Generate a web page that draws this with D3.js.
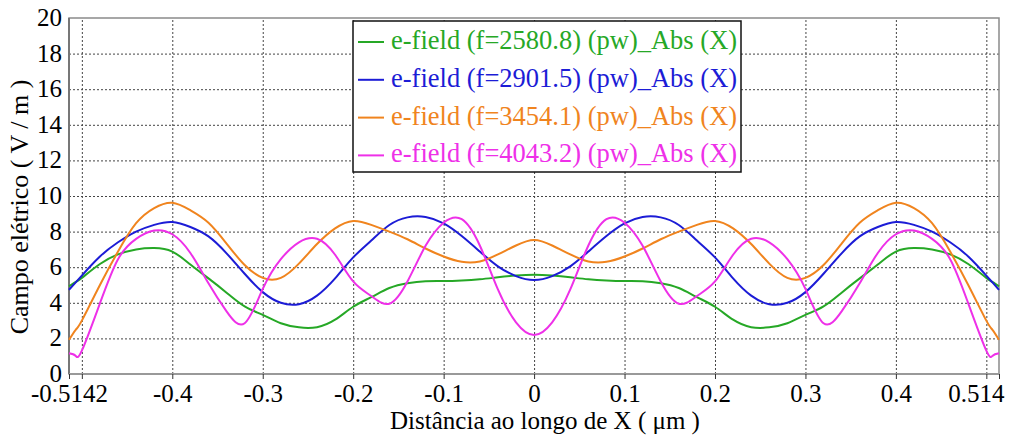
<!DOCTYPE html>
<html>
<head>
<meta charset="utf-8">
<script src="https://cdn.jsdelivr.net/npm/d3@7"></script>
<style>
  body { margin: 0; background: #fff; }
  svg { display: block; font-family: "Liberation Serif", "Times New Roman", serif; }
</style>
</head>
<body>
<svg id="chart" width="1015" height="437"></svg>
<script>
// positions along X (um)
let xs = [-0.5142, -0.507, -0.5, -0.48, -0.46, -0.44, -0.42, -0.4, -0.38, -0.36, -0.34, -0.32, -0.3, -0.28, -0.26, -0.24, -0.22, -0.2, -0.18, -0.16, -0.14, -0.12, -0.1, -0.08, -0.06, -0.04, -0.02,
  0,
  0.02, 0.04, 0.06, 0.08, 0.1, 0.12, 0.14, 0.16, 0.18, 0.2, 0.22, 0.24, 0.26, 0.28, 0.3, 0.32, 0.34, 0.36, 0.38, 0.4, 0.42, 0.44, 0.46, 0.48, 0.5, 0.507, 0.514];

let green = [4.92, 5.16, 5.4, 6.18, 6.72, 7.0, 7.08, 6.88, 6.15, 5.37, 4.57, 3.8, 3.32, 2.85, 2.62, 2.63, 3.05, 3.78, 4.32, 4.83, 5.1, 5.21, 5.22, 5.25, 5.32, 5.43, 5.53,
  5.58,
  5.53, 5.43, 5.32, 5.25, 5.22, 5.21, 5.1, 4.83, 4.32, 3.78, 3.05, 2.63, 2.62, 2.85, 3.32, 3.8, 4.57, 5.37, 6.15, 6.88, 7.08, 7.0, 6.72, 6.18, 5.4, 5.16, 4.92];

let blue = [4.73, 5.13, 5.53, 6.6, 7.4, 8.0, 8.38, 8.54, 8.26, 7.73, 6.78, 5.63, 4.6, 4.0, 3.92, 4.4, 5.37, 6.55, 7.5, 8.37, 8.8, 8.82, 8.46, 7.75, 6.88, 6.05, 5.5,
  5.28,
  5.5, 6.05, 6.88, 7.75, 8.46, 8.82, 8.8, 8.37, 7.5, 6.55, 5.37, 4.4, 3.92, 4.0, 4.6, 5.63, 6.78, 7.73, 8.26, 8.54, 8.38, 8.0, 7.4, 6.6, 5.53, 5.13, 4.73];

let orange = [1.92, 2.47, 3.0, 5.0, 6.88, 8.47, 9.32, 9.62, 9.2, 8.5, 7.33, 6.12, 5.4, 5.4, 6.2, 7.3, 8.18, 8.6, 8.38, 8.0, 7.57, 7.05, 6.6, 6.3, 6.32, 6.72, 7.22,
  7.53,
  7.22, 6.72, 6.32, 6.3, 6.6, 7.05, 7.57, 8.0, 8.38, 8.6, 8.18, 7.3, 6.2, 5.4, 5.4, 6.12, 7.33, 8.5, 9.2, 9.62, 9.32, 8.47, 6.88, 5.0, 3.0, 2.47, 1.92];

let magenta = [1.16, 1.03, 1.31, 3.97, 6.45, 7.59, 8.06, 7.85, 6.8, 5.1, 3.52, 2.85, 4.78, 6.45, 7.4, 7.6, 6.7, 5.2, 4.38, 3.95, 5.2, 7.2, 8.5, 8.7, 7.22, 4.75, 2.9,
  2.19,
  2.9, 4.75, 7.22, 8.7, 8.5, 7.2, 5.2, 3.95, 4.38, 5.2, 6.7, 7.6, 7.4, 6.45, 4.78, 2.85, 3.52, 5.1, 6.8, 7.85, 8.06, 7.59, 6.45, 3.97, 1.31, 1.03, 1.16];

let seriesNames = ["e-field (f=2580.8) (pw)_Abs (X)", "e-field (f=2901.5) (pw)_Abs (X)", "e-field (f=3454.1) (pw)_Abs (X)", "e-field (f=4043.2) (pw)_Abs (X)"];
let seriesColors = ["#26a826", "#1c1cd6", "#f0841e", "#ee30e8"];

let xLabelTicks = [-0.5142, -0.4, -0.3, -0.2, -0.1, 0, 0.1, 0.2, 0.3, 0.4, 0.514];
let xGridTicks = [-0.5, -0.4, -0.3, -0.2, -0.1, 0, 0.1, 0.2, 0.3, 0.4, 0.5];
let yTicks = [0, 2, 4, 6, 8, 10, 12, 14, 16, 18, 20];

let margin = { left: 69, top: 18, right: 16, bottom: 63 };
let width = 1015, height = 437;
let bodyWidth = width - margin.left - margin.right;
let bodyHeight = height - margin.top - margin.bottom;
let serif = "Liberation Serif, Times New Roman, serif";

let svg = d3.select("#chart");
let body = svg.append("g").attr("transform", `translate(${margin.left},${margin.top})`);

let xScale = d3.scaleLinear().domain([-0.5142, 0.514]).range([0, bodyWidth]);
let yScale = d3.scaleLinear().domain([0, 20]).range([bodyHeight, 0]);

// grid
body.append("g").attr("class", "grid")
  .attr("transform", `translate(0,${bodyHeight})`)
  .call(d3.axisBottom(xScale).tickValues(xGridTicks).tickSize(-bodyHeight).tickFormat(""));
body.append("g").attr("class", "grid")
  .call(d3.axisLeft(yScale).tickValues(yTicks.slice(1, -1)).tickSize(-bodyWidth).tickFormat(""));
body.selectAll(".grid .domain").remove();
body.selectAll(".grid line")
  .attr("stroke", "#444").attr("stroke-width", 1).attr("stroke-dasharray", "2,2");

// frame
body.append("rect").attr("width", bodyWidth).attr("height", bodyHeight)
  .attr("fill", "none").attr("stroke", "#8a8a8a").attr("stroke-width", 1.5);
body.append("line").attr("x1", 0).attr("x2", 0).attr("y1", 0).attr("y2", bodyHeight)
  .attr("stroke", "#777").attr("stroke-width", 2);
body.append("line").attr("x1", 0).attr("x2", bodyWidth).attr("y1", bodyHeight).attr("y2", bodyHeight)
  .attr("stroke", "#999").attr("stroke-width", 2);

// x ticks and labels
let xAxis = body.append("g").attr("transform", `translate(0,${bodyHeight})`)
  .call(d3.axisBottom(xScale).tickValues(xGridTicks.concat([-0.5142, 0.514])).tickSize(5).tickFormat(""));
xAxis.select(".domain").remove();
xAxis.selectAll("line").attr("stroke", "#333");

let xLabels = body.append("g").attr("transform", `translate(0,${bodyHeight})`)
  .call(d3.axisBottom(xScale).tickValues(xLabelTicks).tickSize(0).tickPadding(0)
    .tickFormat(d => d === 0 ? "0" : String(d)));
xLabels.select(".domain").remove();
xLabels.selectAll("text")
  .attr("font-family", serif).attr("font-size", 25).attr("fill", "#000")
  .attr("dy", 0).attr("y", 28)
  .attr("text-anchor", d => d === 0.514 ? "end" : "middle")
  .attr("dx", d => d === 0.514 ? 5 : 0);

// y labels
let yLabels = body.append("g")
  .call(d3.axisLeft(yScale).tickValues(yTicks).tickSize(0).tickPadding(7));
yLabels.select(".domain").remove();
yLabels.selectAll("text")
  .attr("font-family", serif).attr("font-size", 25).attr("fill", "#000")
  .attr("dy", "0.3em");

// lines
let allSeries = [green, blue, orange, magenta];
let lineGenerator = d3.line()
  .x((d, i) => xScale(xs[i]))
  .y(d => yScale(d))
  .curve(d3.curveNatural);

body.append("g").selectAll("path").data(allSeries).join("path")
  .attr("d", lineGenerator)
  .attr("fill", "none")
  .attr("stroke", (d, i) => seriesColors[i])
  .attr("stroke-width", 2);

// legend
let legend = svg.append("g").attr("transform", "translate(353,21)");
legend.append("rect").attr("width", 388).attr("height", 151)
  .attr("fill", "#fff").attr("stroke", "#111").attr("stroke-width", 1.5);
let rows = legend.selectAll("g").data(seriesNames).join("g")
  .attr("transform", (d, i) => `translate(0,${21 + i * 37.8})`);
rows.append("line").attr("x1", 5).attr("x2", 31)
  .attr("stroke", (d, i) => seriesColors[i]).attr("stroke-width", 2);
rows.append("text").attr("x", 38).attr("y", 7)
  .attr("font-family", serif).attr("font-size", 26.5)
  .attr("fill", (d, i) => seriesColors[i])
  .text(d => d);

// axis titles
svg.append("text")
  .attr("transform", "translate(28,207) rotate(-90)")
  .attr("text-anchor", "middle").attr("font-family", serif).attr("font-size", 26)
  .text("Campo elétrico ( V / m )");
svg.append("text")
  .attr("x", 545).attr("y", 429)
  .attr("text-anchor", "middle").attr("font-family", serif).attr("font-size", 25)
  .text("Distância ao longo de X ( μm )");
</script>
</body>
</html>
